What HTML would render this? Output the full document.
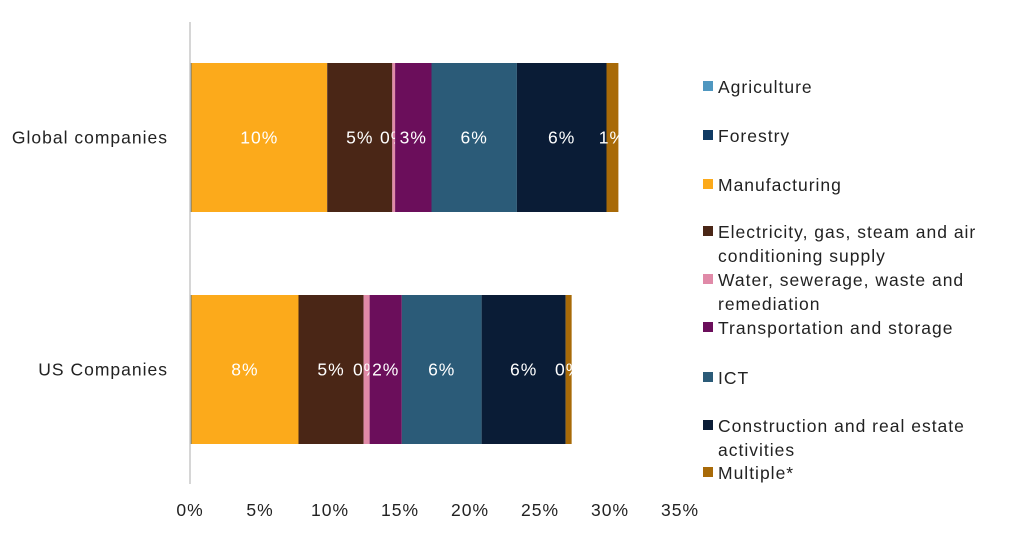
<!DOCTYPE html>
<html><head><meta charset="utf-8"><style>
html,body{margin:0;padding:0;background:#fff;}
svg{display:block;font-family:"Liberation Sans",sans-serif;}
text{letter-spacing:1px;}
</style></head><body>
<svg id="chart" width="1026" height="534"></svg>
<script>
const categories = ["Global companies", "US Companies"];
const seriesNames = ["Agriculture","Forestry","Manufacturing","Electricity, gas, steam and air|conditioning supply","Water, sewerage, waste and|remediation","Transportation and storage","ICT","Construction and real estate|activities","Multiple*"];
const seriesColors = ["#4f97c0","#0f3a63","#fcaa1b","#4a2616","#e08aa8","#6b0e5b","#2b5b78","#0a1c36","#a86a08"];
const globalValues = [0.05,0.05,9.7,4.65,0.2,2.6,6.1,6.4,0.85];
const usValues = [0.05,0.05,7.65,4.65,0.43,2.3,5.7,6.0,0.43];
const seriesValues = [globalValues, usValues];
const tickValues = [0,5,10,15,20,25,30,35];
const showLabel = [false,false,true,true,true,true,true,true,true];

const NS="http://www.w3.org/2000/svg";
const svg=document.getElementById('chart');
const x0=190, pxPer=14;
const xScale=v=>x0+v*pxPer;
const barTop=[63,295], barH=149;
function mk(t,a){const e=document.createElementNS(NS,t);for(const k in a)e.setAttribute(k,a[k]);svg.appendChild(e);return e;}

seriesValues.forEach((vals,ci)=>{
  let acc=0;
  vals.forEach((v,si)=>{
    const r=mk('rect',{x:xScale(acc),y:barTop[ci],width:v*pxPer,height:barH,fill:seriesColors[si]});
    
    
    if(showLabel[si]){
      const t=mk('text',{x:xScale(acc+v/2),y:barTop[ci]+barH/2+6,'text-anchor':'middle','font-size':'17.5',fill:'#fff'});
      t.textContent=Math.round(v)+'%';
      
      
    }
    acc+=v;
  });
  const c=mk('text',{x:168,y:barTop[ci]+barH/2+6,'text-anchor':'end','font-size':'17.5',fill:'#222'});
  c.textContent=categories[ci];
  
  
});

const ax=mk('line',{x1:x0,y1:22,x2:x0,y2:484,stroke:'#c8c8c8','stroke-width':1.5});



tickValues.forEach(v=>{
  const t=mk('text',{x:xScale(v),y:516,'text-anchor':'middle','font-size':'17.5',fill:'#222'});
  t.textContent=v+'%';
  
  
});

const legendY=[87,136,185,232,280,328,378,426,473];
seriesNames.forEach((n,i)=>{
  const r=mk('rect',{x:703,y:legendY[i]-6,width:10,height:10,fill:seriesColors[i]});
  
  
  const lines=n.split('|');
  lines.forEach((ln,j)=>{
    const t=mk('text',{x:718,y:legendY[i]+6+j*24,'font-size':'17.5',fill:'#222'});
    t.textContent=ln;
    
    
  });
});
</script>
</body></html>
